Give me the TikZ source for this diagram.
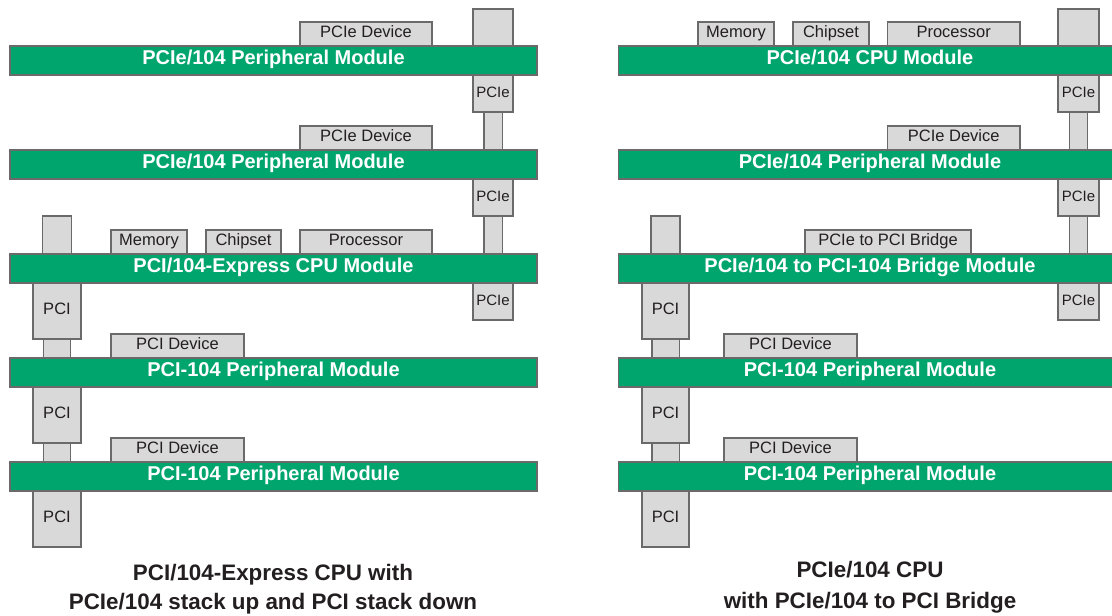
\documentclass[tikz,border=0pt]{standalone}
\usepackage{fontspec}
\setmainfont{Liberation Sans}
\usetikzlibrary{backgrounds}

\definecolor{boardgreen}{RGB}{0,165,110}
\definecolor{chipgray}{RGB}{217,217,217}
\definecolor{edgegray}{RGB}{106,106,106}
\definecolor{textdark}{RGB}{35,31,32}

\tikzset{
  board/.style={draw=edgegray, fill=boardgreen, line width=1.2pt, inner sep=0pt,
    minimum height=29pt, text=white, text height=0.72em, text depth=0pt,
    font=\bfseries\fontsize{20}{20}\selectfont},
  chip/.style={draw=edgegray, fill=chipgray, line width=1.2pt, inner sep=0pt,
    minimum height=24pt, text=textdark, text height=0.72em, text depth=0pt,
    font=\fontsize{16.5}{16.5}\selectfont},
  pcie/.style={chip, minimum width=40pt, minimum height=37pt,
    font=\fontsize{15}{15}\selectfont},
  pci/.style={chip, minimum width=48pt, minimum height=56pt},
  link/.style={draw=edgegray, line width=1.2pt, double=chipgray, double distance=#1},
  caption/.style={text=textdark, align=center,
    font=\bfseries\fontsize{22.4}{29}\selectfont}
}

\begin{document}
\begin{tikzpicture}[x=1pt, y=-1pt]

\useasboundingbox (0,0) rectangle (1112,616);

% left stack
\node[board, minimum width=527pt] (lB1) at (273.5,60.5)  {PCIe/104 Peripheral Module};
\node[board, minimum width=527pt] (lB2) at (273.5,164.5) {PCIe/104 Peripheral Module};
\node[board, minimum width=527pt] (lB3) at (273.5,268.5) {PCI/104-Express CPU Module};
\node[board, minimum width=527pt] (lB4) at (273.5,372.5) {PCI-104 Peripheral Module};
\node[board, minimum width=527pt] (lB5) at (273.5,476.5) {PCI-104 Peripheral Module};

\node[chip, minimum width=132pt] (lDev1) at (366,34)    {PCIe Device};
\node[chip, minimum width=132pt] (lDev2) at (366,138)   {PCIe Device};
\node[chip, minimum width=76pt]  (lMem)  at (149,242)   {Memory};
\node[chip, minimum width=75pt]  (lChip) at (243.5,242) {Chipset};
\node[chip, minimum width=132pt] (lProc) at (366,242)   {Processor};
\node[chip, minimum width=133pt] (lDev3) at (177.5,346) {PCI Device};
\node[chip, minimum width=133pt] (lDev4) at (177.5,450) {PCI Device};

\node[pcie] (lTop) at (493,27.5) {};
\node[pcie] (lE1)  at (493,93.5)  {PCIe};
\node[pcie] (lE2)  at (493,197.5) {PCIe};
\node[pcie] (lE3)  at (493,301.5) {PCIe};

\node[chip, minimum width=28.5pt, minimum height=38pt] (lPciTop) at (57,235) {};
\node[pci] (lP1) at (57,311) {PCI};
\node[pci] (lP2) at (57,415) {PCI};
\node[pci] (lP3) at (57,519) {PCI};

\node[caption] (lCap) at (273,589.5)
  {PCI/104-Express CPU with\\PCIe/104 stack up and PCI stack down};

% right stack
\node[board, minimum width=503pt] (rB1) at (870,60.5)  {PCIe/104 CPU Module};
\node[board, minimum width=503pt] (rB2) at (870,164.5) {PCIe/104 Peripheral Module};
\node[board, minimum width=503pt] (rB3) at (870,268.5) {PCIe/104 to PCI-104 Bridge Module};
\node[board, minimum width=503pt] (rB4) at (870,372.5) {PCI-104 Peripheral Module};
\node[board, minimum width=503pt] (rB5) at (870,476.5) {PCI-104 Peripheral Module};

\node[chip, minimum width=76pt]    (rMem)    at (736,34)    {Memory};
\node[chip, minimum width=76pt]    (rChip)   at (831,34)    {Chipset};
\node[chip, minimum width=132.5pt] (rProc)   at (953.7,34)  {Processor};
\node[chip, minimum width=132.5pt] (rDev1)   at (953.7,138) {PCIe Device};
\node[chip, minimum width=166pt]   (rBridge) at (888,242)   {PCIe to PCI Bridge};
\node[chip, minimum width=133pt]   (rDev2)   at (790.5,346) {PCI Device};
\node[chip, minimum width=133pt]   (rDev3)   at (790.5,450) {PCI Device};

\node[pcie, minimum width=41pt] (rTop) at (1078.5,27.5) {};
\node[pcie, minimum width=41pt] (rE1)  at (1078.5,93.5)  {PCIe};
\node[pcie, minimum width=41pt] (rE2)  at (1078.5,197.5) {PCIe};
\node[pcie, minimum width=41pt] (rE3)  at (1078.5,301.5) {PCIe};

\node[chip, minimum width=29pt, minimum height=38pt] (rPciTop) at (665.5,235) {};
\node[pci, minimum width=47pt] (rP1) at (665.5,311) {PCI};
\node[pci, minimum width=47pt] (rP2) at (665.5,415) {PCI};
\node[pci, minimum width=47pt] (rP3) at (665.5,519) {PCI};

\node[caption, font=\bfseries\fontsize{22.4}{31}\selectfont] (rCap) at (870,587)
  {PCIe/104 CPU\\with PCIe/104 to PCI Bridge};

% stacking pins sit behind the boards
\begin{scope}[on background layer]
\draw[link=17pt] (lE1.south) -- (lE1.south |- lB2.north);
\draw[link=17pt] (lE2.south) -- (lE2.south |- lB3.north);
\draw[link=26pt] (lP1.south) -- (lP1.south |- lB4.north);
\draw[link=26pt] (lP2.south) -- (lP2.south |- lB5.north);

\draw[link=17pt] (rE1.south) -- (rE1.south |- rB2.north);
\draw[link=17pt] (rE2.south) -- (rE2.south |- rB3.north);
\draw[link=26pt] (rP1.south) -- (rP1.south |- rB4.north);
\draw[link=26pt] (rP2.south) -- (rP2.south |- rB5.north);
\end{scope}

\end{tikzpicture}
\end{document}
